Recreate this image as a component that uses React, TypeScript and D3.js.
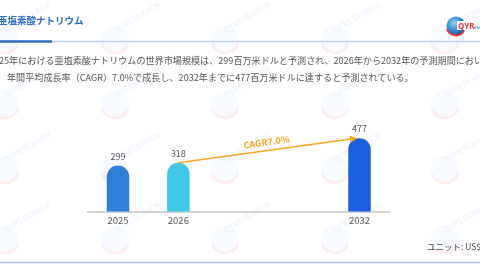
import React from "react";
import * as d3 from "d3";

const years = ["2025", "2026", "2032"];
const values = [299, 318, 477];
const barColors = ["#2e7fd7", "#3fc8e8", "#1b5fe0"];
const slots = ["2025", "2026", "g1", "g2", "2032"];
const titleText = "亜塩素酸ナトリウム";
const line1 = "25年における亜塩素酸ナトリウムの世界市場規模は、299百万米ドルと予測され、2026年から2032年の予測期間において";
const line2 = "年間平均成長率（CAGR）7.0%で成長し、2032年までに477百万米ドルに達すると予測されている。";
const cagrLabel = "CAGR7.0%";
const unitLabel = "ユニット: US$";
const wmLabel = "QYRESEARCH";
const wmCols = [5, 115, 225, 335, 445];
const wmRows = [40, 105, 170, 240];

export default function App() {
  const W = 480, H = 270;
  const x = d3.scalePoint<string>().domain(slots).range([118, 359.5]);
  const y = d3.scaleLinear().domain([0, 500]).range([211.5, 134.75]);
  const bw = 22.5;
  const r = bw / 2;
  const font = "'Noto Sans CJK JP', 'Noto Sans', sans-serif";

  const barPath = (cx: number, v: number) => {
    const x0 = cx - r, x1 = cx + r, top = y(v), base = y(0);
    const p = d3.path();
    p.moveTo(x0, base);
    p.lineTo(x0, top + r);
    p.arc(cx, top + r, r, Math.PI, 0);
    p.lineTo(x1, base);
    p.closePath();
    return p.toString();
  };

  const ax0 = x("2026")!, ay0 = y(values[1]);
  const ax1 = x("2032")! - 3, ay1 = y(values[2]);
  const ang = (Math.atan2(ay1 - ay0, ax1 - ax0) * 180) / Math.PI;
  const mx = 267;
  const my = ay0 + ((mx - ax0) / (ax1 - ax0)) * (ay1 - ay0) - 5;

  return (
    <svg width={W} height={H} style={{ position: "absolute", left: 0, top: 0, background: "#fff" }}>
      <defs>
        <radialGradient id="globe" cx="40%" cy="35%" r="70%">
          <stop offset="0%" stopColor="#8fd0f5" />
          <stop offset="60%" stopColor="#2a86d0" />
          <stop offset="100%" stopColor="#0f4f9e" />
        </radialGradient>
        <marker id="arr" viewBox="0 0 10 10" refX="9" refY="5" markerWidth="5" markerHeight="5" orient="auto">
          <path d="M0,0 L10,5 L0,10 Z" fill="#f5a623" />
        </marker>
      </defs>
      <rect width={W} height={H} fill="#fff" />
      {/* watermarks */}
      <g opacity={0.09}>
        {wmRows.map((wy, i) =>
          wmCols.map((wx, j) => (
            <g key={`${i}-${j}`} transform={`translate(${wx},${wy})`}>
              <circle r={14} fill="#9cc4ea" />
              <path d="M-13,4 A14,14 0 0 0 13,4" fill="none" stroke="#e53935" strokeWidth={3} />
              <text x={4} y={-6} fontSize={8} fontFamily={font} fill="#3a7bd5" fontWeight="bold" transform="rotate(-30)">
                {wmLabel}
              </text>
            </g>
          ))
        )}
      </g>
      {/* title */}
      <text x={-2} y={24} fontSize={9.5} fontWeight="bold" fill="#2f6fba" fontFamily={font}>
        {titleText}
      </text>
      <line x1={0} x2={W} y1={41.5} y2={41.5} stroke="#b9d0ec" strokeWidth={1.5} />
      <line x1={0} x2={52} y1={41.5} y2={41.5} stroke="#2f6fba" strokeWidth={2.5} />
      {/* logo */}
      <g>
        <circle cx={456} cy={26} r={9.5} fill="url(#globe)" />
        <path d="M447,29 A9.5,9.5 0 0 0 464,31" fill="none" stroke="#e53935" strokeWidth={2} />
        <rect x={457} y={21} width={24} height={9} fill="#fff" />
        <text x={458} y={28.5} fontSize={8} fontWeight="bold" fill="#e53935" fontFamily="'Noto Sans', sans-serif">
          QYR
        </text>
        <text x={474} y={28.5} fontSize={5} fill="#2a86d0" fontFamily="'Noto Sans', sans-serif">
          esearch
        </text>
      </g>
      {/* description */}
      <text x={-1} y={64} fontSize={9.1} fill="#555" fontFamily={font}>
        {line1}
      </text>
      <text x={7} y={81} fontSize={9.1} fill="#555" fontFamily={font}>
        {line2}
      </text>
      {/* axis */}
      <line x1={87} x2={390} y1={y(0) + 0.5} y2={y(0) + 0.5} stroke="#aaa" strokeWidth={1} />
      {/* bars */}
      {years.map((yr, i) => (
        <g key={yr}>
          <path d={barPath(x(yr)!, values[i])} fill={barColors[i]} />
          <text x={x(yr)!} y={y(values[i]) - 6} textAnchor="middle" fontSize={9} fill="#555" fontFamily={font}>
            {values[i]}
          </text>
          <text x={x(yr)!} y={y(0) + 12.5} textAnchor="middle" fontSize={9.5} fill="#555" fontFamily={font}>
            {yr}
          </text>
        </g>
      ))}
      {/* CAGR arrow */}
      <line x1={ax0} y1={ay0} x2={ax1} y2={ay1} stroke="#f5a623" strokeWidth={1.5} markerEnd="url(#arr)" />
      <text
        x={mx}
        y={my}
        textAnchor="middle"
        fontSize={9}
        fontWeight="bold"
        fill="#f5a623"
        fontFamily={font}
        transform={`rotate(${ang},${mx},${my})`}
      >
        {cagrLabel}
      </text>
      {/* unit */}
      <text x={481} y={250} textAnchor="end" fontSize={8.5} fill="#444" fontFamily={font}>
        {unitLabel}
      </text>
      <line x1={0} x2={W} y1={262.5} y2={262.5} stroke="#a9c6ea" strokeWidth={1.5} />
    </svg>
  );
}
